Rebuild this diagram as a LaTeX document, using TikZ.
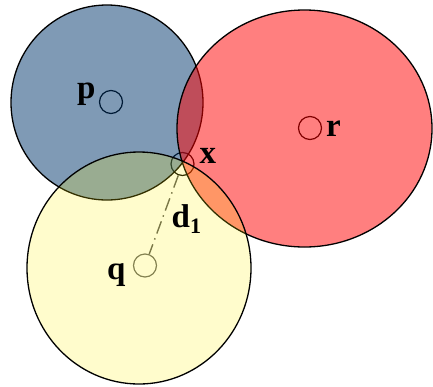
\documentclass[tikz,border=0pt]{standalone}
\usepackage{fontspec}
\setmainfont{Liberation Serif}
\begin{document}
\begin{tikzpicture}[x=1pt,y=-1pt,
  region/.style={draw=black,line width=1.3pt},
  pt/.style={circle,draw,line width=1.2pt,minimum size=23pt,inner sep=0pt},
  lbl/.style={font=\fontsize{33}{36}\selectfont\bfseries,inner sep=0pt,anchor=base west}]
\useasboundingbox (0,0) rectangle (433,386);
\definecolor{bluebase}{RGB}{0,54,108}
% points drawn below the regions
\node[pt,draw=black] (p) at (111,102) {};
\node[pt,draw=black] (r) at (310,128) {};
\node[pt,draw=black] (x) at (182.5,164) {};
\node[pt,draw=black!60] (q) at (145,265.5) {};
\draw[black!65,line width=1.4pt,dash pattern=on 13pt off 5pt on 1.5pt off 5pt] (x) -- (q);
% regions
\draw[region,fill=bluebase,fill opacity=0.5] (107,102.5) ellipse [x radius=96,y radius=97.5];
\draw[region,fill=red,fill opacity=0.5] (304.5,128.5) ellipse [x radius=127.5,y radius=118.5];
\draw[region,fill=yellow,fill opacity=0.2] (139,268) ellipse [x radius=112,y radius=116];
% labels
\node[lbl] (lp) at (77,98.5) {p};
\node[lbl] (lr) at (326,136.5) {r};
\node[lbl] (lq) at (107,279) {q};
\node[lbl] (lx) at (199.5,163) {x};
\node[lbl] (ld) at (171.5,227) {d\raisebox{-6pt}{\fontsize{22}{24}\selectfont 1}};
\end{tikzpicture}
\end{document}
